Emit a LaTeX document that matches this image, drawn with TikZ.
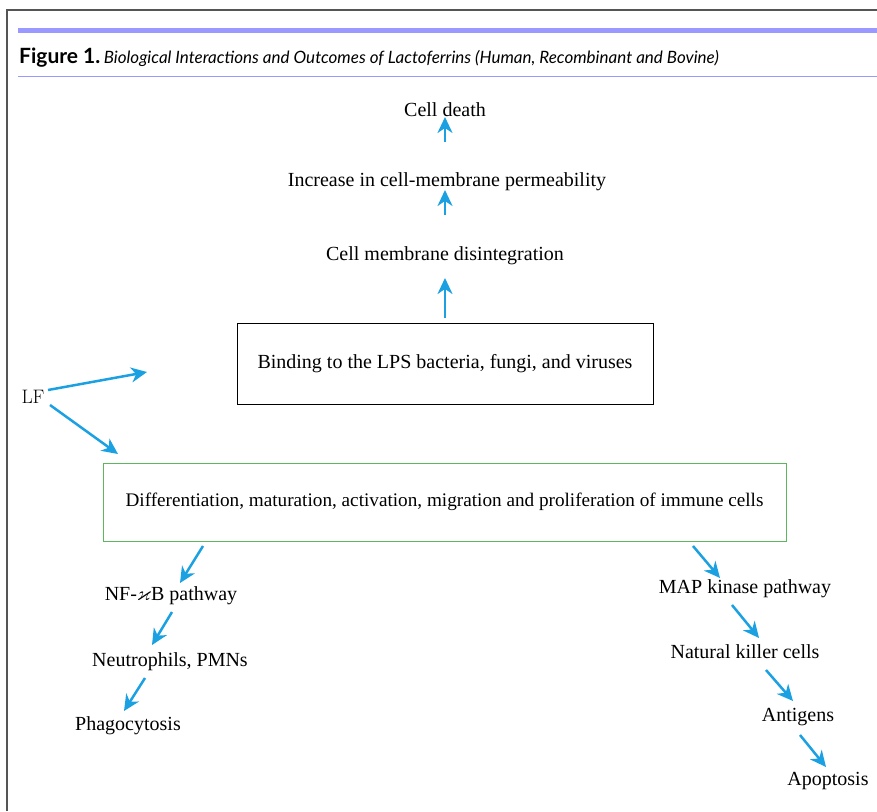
\documentclass[tikz,border=0pt]{standalone}
\usepackage{amssymb}
\usepackage{fontspec}
\setmainfont{Liberation Serif}
\newfontfamily\titlefont{Lato}
\newfontfamily\lmfont{Latin Modern Roman}
\usetikzlibrary{arrows.meta}
\definecolor{arrowblue}{HTML}{1BA1E2}
\definecolor{barblue}{HTML}{9999FF}
\definecolor{framegray}{HTML}{555555}
\definecolor{boxgreen}{HTML}{5CB85C}
\tikzset{
  lbl/.style={inner sep=0pt, font=\fontsize{20}{24}\selectfont, anchor=center},
  flow/.style={draw=arrowblue, line width=2.5pt, -{Stealth[length=16pt,width=15pt,inset=5pt]}},
}
\begin{document}
\begin{tikzpicture}[x=1pt,y=-1pt]
\useasboundingbox (0,0) rectangle (877,811);
% frame
\draw[framegray, line width=1.6pt] (7,811) -- (7,10) -- (877,10);
\fill[barblue] (18,28) rectangle (877,33);
\draw[barblue, line width=1pt] (18,76) -- (877,76);
\node[anchor=base west, inner sep=0pt, font=\titlefont\fontsize{21}{24}\selectfont] (title) at (19,63)
  {\textbf{Figure 1.}\,{\itshape\fontsize{17}{20}\selectfont Biological Interactions and Outcomes of Lactoferrins (Human, Recombinant and Bovine)}};
% top chain
\node[lbl] (death) at (445,110) {Cell death};
\node[lbl] (perm) at (447,182) {Increase in cell-membrane permeability};
\node[lbl] (disint) at (445,256) {Cell membrane disintegration};
\node[draw=black, line width=1pt, minimum width=416pt, minimum height=81pt, inner sep=0pt, font=\fontsize{20}{24}\selectfont] (bind) at (445,363.5) {Binding to the LPS bacteria, fungi, and viruses};
\coordinate (c1) at (445,142);
\coordinate (c1e) at (445,117);
\coordinate (c2) at (445,215);
\coordinate (c2e) at (445,190);
\coordinate (c3) at (445,318);
\coordinate (c3e) at (445,278);
\draw[flow] (c1) -- (c1e);
\draw[flow] (c2) -- (c2e);
\draw[flow] (c3) -- (c3e);
% LF
\node[inner sep=0pt, font=\lmfont\fontsize{19.5}{22}\selectfont] (lf) at (33,397) {LF};
\coordinate (lfa) at (48,390);
\coordinate (lfae) at (147,372);
\coordinate (lfb) at (50,405);
\coordinate (lfbe) at (118,454);
\draw[flow] (lfa) -- (lfae);
\draw[flow] (lfb) -- (lfbe);
% green box
\node[draw=boxgreen, line width=1pt, minimum width=683pt, minimum height=78pt, inner sep=0pt, font=\fontsize{19.2}{23}\selectfont] (immune) at (444.5,502) {Differentiation, maturation, activation, migration and proliferation of immune cells};
% left chain
\node[lbl] (nfkb) at (171,596) {NF-$\varkappa$B pathway};
\node[lbl] (neut) at (170,662) {Neutrophils, PMNs};
\node[lbl] (phago) at (128,726) {Phagocytosis};
\coordinate (l1) at (203,546);
\coordinate (l1e) at (180,583);
\coordinate (l2) at (172,612);
\coordinate (l2e) at (152,645);
\coordinate (l3) at (145,678);
\coordinate (l3e) at (124,711);
\draw[flow] (l1) -- (l1e);
\draw[flow] (l2) -- (l2e);
\draw[flow] (l3) -- (l3e);
% right chain
\node[lbl] (map) at (745,589) {MAP kinase pathway};
\node[lbl] (nk) at (745,652) {Natural killer cells};
\node[lbl] (antig) at (798,717) {Antigens};
\node[lbl] (apop) at (828,781) {Apoptosis};
\coordinate (r1) at (693,546);
\coordinate (r1e) at (720,578);
\coordinate (r2) at (732,605);
\coordinate (r2e) at (759,638);
\coordinate (r3) at (766,670);
\coordinate (r3e) at (793,701);
\coordinate (r4) at (800,735);
\coordinate (r4e) at (826,767);
\draw[flow] (r1) -- (r1e);
\draw[flow] (r2) -- (r2e);
\draw[flow] (r3) -- (r3e);
\draw[flow] (r4) -- (r4e);
\end{tikzpicture}
\end{document}
